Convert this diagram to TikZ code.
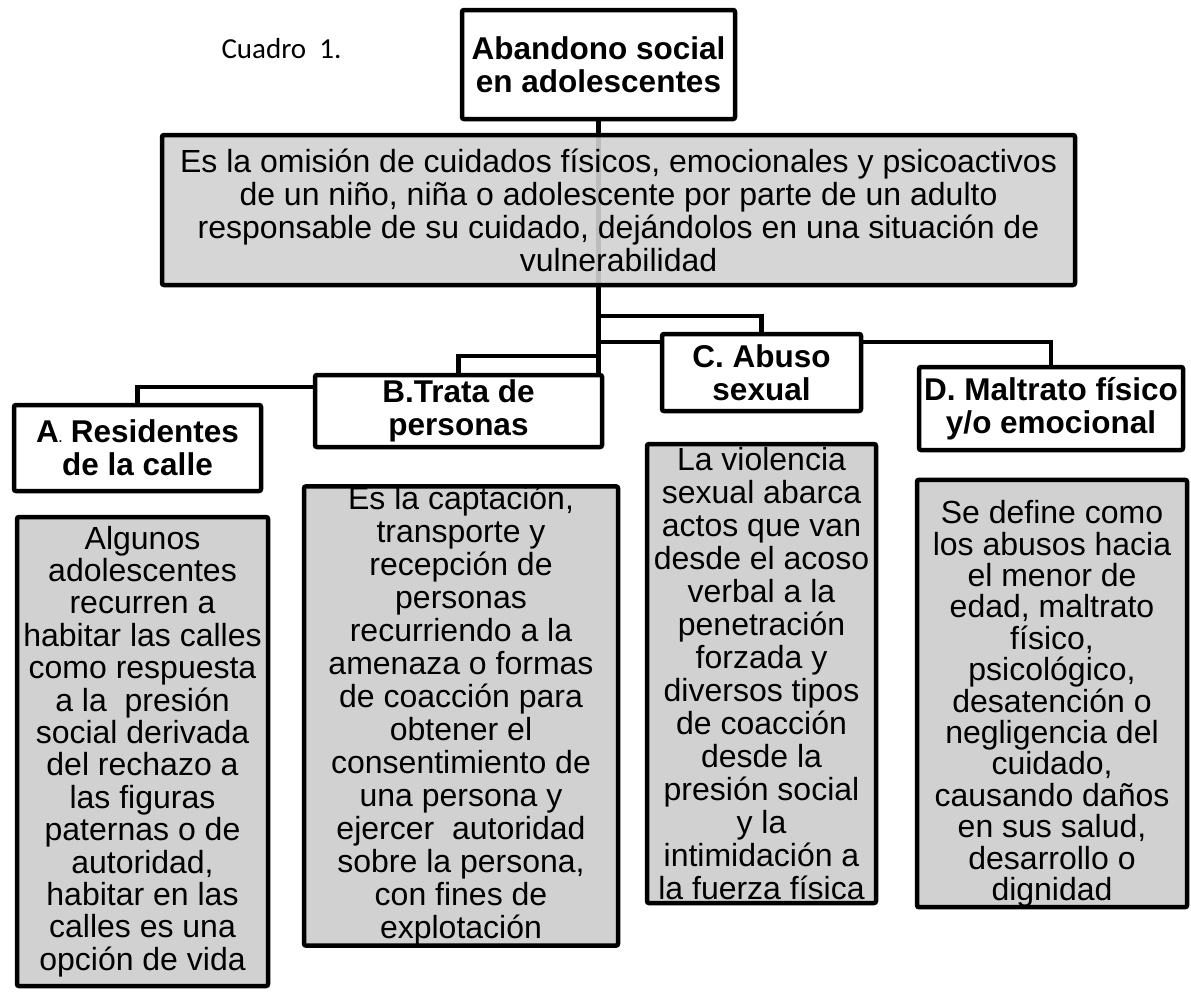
\documentclass[tikz,border=0pt]{standalone}
\usepackage{fontspec}
\setmainfont{Liberation Sans}
\newfontfamily\cuadrofont{Carlito}
\usetikzlibrary{backgrounds}

\begin{document}
\begin{tikzpicture}[x=1pt, y=-1pt,
	box/.style={draw, line width=4.5pt, rounded corners=2pt, fill=white, inner sep=0pt, align=center, font=\fontsize{31.5}{33}\selectfont\bfseries},
	graybox/.style={draw, line width=4.5pt, rounded corners=2pt, fill=black!18, inner sep=0pt, align=center, font=\fontsize{32}{33}\selectfont},
	link/.style={line width=4.5pt}]
			%%%%% START %%%%%
			\useasboundingbox (0, 0) rectangle (1191, 991);
			
			\node[anchor=base west, font=\cuadrofont\fontsize{29}{30}\selectfont] (caption) at (218, 58) {Cuadro\ \ 1.};
			
			\node[box, minimum width=273, minimum height=109] (title) at (598.5, 64.5) {Abandono social\\en adolescentes};
			\node[graybox, fill opacity=0.9, text opacity=1, minimum width=913, minimum height=150] (main) at (618.5, 210) {Es la omisión de cuidados físicos, emocionales y psicoactivos\\de un niño, niña o adolescente por parte de un adulto\\responsable de su cuidado, dejándolos en una situación de\\vulnerabilidad};
			
			\node[box, minimum width=247, minimum height=86] (A) at (137.5, 448) {A{\fontsize{12}{12}\selectfont.} Residentes\\de la calle};
			\node[box, minimum width=287, minimum height=72] (B) at (458.5, 411) {B.Trata de\\personas};
			\node[box, minimum width=199, minimum height=77] (C) at (761.5, 372.5) {C. Abuso\\sexual};
			\node[box, minimum width=264, minimum height=83] (D) at (1051, 408.5) {D. Maltrato físico\\y/o emocional};
			
			\node[graybox, font=\fontsize{32}{32.4}\selectfont, minimum width=251, minimum height=469] (textA) at (142.5, 751.5) {Algunos\\adolescentes\\recurren a\\habitar las calles\\como respuesta\\a la\ \ presión\\social derivada\\del rechazo a\\las figuras\\paternas o de\\autoridad,\\habitar en las\\calles es una\\opción de vida};
			\node[graybox, minimum width=314, minimum height=454] (textB) at (461, 716) {Es la captación,\\transporte y\\recepción de\\personas\\recurriendo a la\\amenaza o formas\\de coacción para\\obtener el\\consentimiento de\\una persona y\\ejercer\ \ autoridad\\sobre la persona,\\con fines de\\explotación};
			\node[graybox, minimum width=229, minimum height=459] (textC) at (761.5, 673.5) {La violencia\\sexual abarca\\actos que van\\desde el acoso\\verbal a la\\penetración\\forzada y\\diversos tipos\\de coacción\\desde la\\presión social\\y la\\intimidación a\\la fuerza física};
			\node[graybox, font=\fontsize{32}{31.4}\selectfont, minimum width=270, minimum height=425] (textD) at (1052, 693.5) {\rule{0pt}{44pt}Se define como\\los abusos hacia\\el menor de\\edad, maltrato\\físico,\\psicológico,\\desatención o\\negligencia del\\cuidado,\\causando daños\\en sus salud,\\desarrollo o\\dignidad};
			
			\begin{scope}[on background layer]
				\draw[link] (title.south) -- (title.south |- B.north);
				\draw[link] (title.south |- 0,316) -| (C.north);
				\draw[link] (title.south |- 0,342) -| (D.north);
				\draw[link] (title.south |- 0,356) -| (B.north);
				\draw[link] (title.south |- 0,387) -| (A.north);
			\end{scope}
			
			%%%%% END %%%%%
\end{tikzpicture}
\end{document}
